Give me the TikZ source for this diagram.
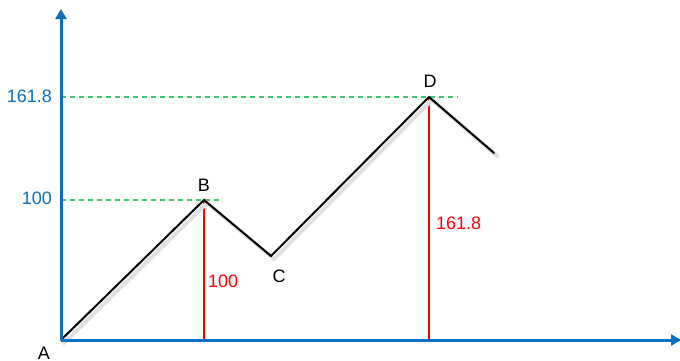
\documentclass[tikz,border=0pt]{standalone}
\usepackage{fontspec}
\setmainfont{Liberation Sans}
\usetikzlibrary{arrows.meta}
\definecolor{axblue}{RGB}{10,112,192}
\definecolor{lvlgreen}{RGB}{60,200,110}
\begin{document}
\begin{tikzpicture}[x=1pt,y=-1pt,
  axis/.style={draw=axblue,line width=3pt,-{Triangle[length=10pt,width=11pt]}},
  wave/.style={draw=black,line width=2pt,line cap=round,line join=miter},
  level/.style={draw=lvlgreen,line width=1.5pt,dash pattern=on 5pt off 4pt},
  drop/.style={draw=red,line width=1.2pt},
  pt/.style={font=\fontsize{18}{20}\selectfont,text=black,inner sep=0pt},
  val/.style={font=\fontsize{18}{20}\selectfont,inner sep=0pt}]
\useasboundingbox (0,0) rectangle (680,360);
\coordinate (O) at (61,340);
\coordinate (ytop) at (61,9);
\coordinate (xend) at (681,340);
\coordinate (A) at (61,340);
\coordinate (B) at (204,200);
\coordinate (C) at (271,256);
\coordinate (D) at (429,97);
\coordinate (E) at (494,153);
\coordinate (Bf) at (204,340);
\coordinate (Df) at (429,340);
\coordinate (Bl) at (61,200);
\coordinate (Br) at (222,200);
\coordinate (Dl) at (61,97);
\coordinate (Dr) at (458,97);
% levels and drops
\draw[level] (Dl) -- (Dr);
\draw[level] (Bl) -- (Br);
\draw[drop] (B) -- (Bf);
\draw[drop] (D) -- (Df);
% shadow
\draw[wave,draw=black!12,line width=4pt,transform canvas={xshift=3pt,yshift=-3pt}] (A) -- (B) -- (C) -- (D) -- (E);
\draw[wave] (A) -- (B) -- (C) -- (D) -- (E);
% axes
\draw[axis] (O) -- (ytop);
\draw[axis] (O) -- (xend);
% labels
\node[pt] (lA) at (44,353) {A};
\node[pt] (lB) at (204,185) {B};
\node[pt] (lC) at (279,276) {C};
\node[pt] (lD) at (430,81) {D};
\node[val,text=axblue,anchor=east] (y1) at (52,96) {161.8};
\node[val,text=axblue,anchor=east] (y2) at (52,198) {100};
\node[val,text=red,anchor=west] (r1) at (208,281) {100};
\node[val,text=red,anchor=west] (r2) at (436,223) {161.8};
\end{tikzpicture}
\end{document}
